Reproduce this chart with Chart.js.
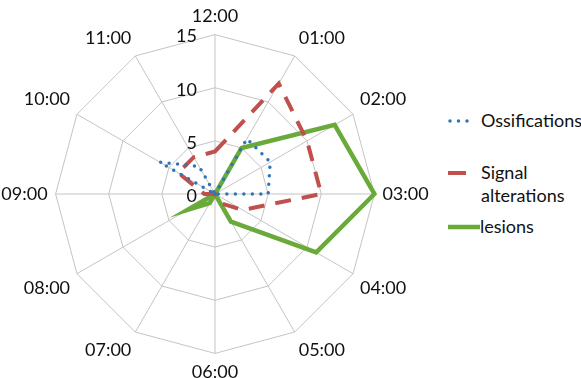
<!DOCTYPE html>
<html>
<head>
<meta charset="utf-8">
<script src="https://cdn.jsdelivr.net/npm/chart.js@4.4.0/dist/chart.umd.min.js"></script>
<style>
  html, body { margin: 0; padding: 0; background: #fff; }
  body { width: 581px; height: 378px; position: relative; overflow: hidden; font-family: Lato, sans-serif; color: #111; }
  #wrap { position: absolute; left: 0; top: 0; width: 430px; height: 384px; }
  .leg { position: absolute; font-size: 18px; line-height: 23px; }
  .leg svg { position: absolute; }
</style>
</head>
<body>
<div id="wrap"><canvas id="radar"></canvas></div>

<div class="leg" style="left:447px; top:109px;">
  <svg width="30" height="8" style="left:0; top:8px;"><line x1="3" y1="4" x2="21" y2="4" stroke="#2E75B6" stroke-width="3.5" stroke-linecap="round" stroke-dasharray="0 8.5"/></svg>
  <span style="position:absolute; left:34px; top:0; white-space:nowrap;">Ossifications</span>
</div>
<div class="leg" style="left:447px; top:161px;">
  <svg width="30" height="8" style="left:0; top:8px;"><line x1="1" y1="4" x2="19" y2="4" stroke="#C0504D" stroke-width="4"/></svg>
  <span style="position:absolute; left:34px; top:0; white-space:nowrap;">Signal<br>alterations</span>
</div>
<div class="leg" style="left:447px; top:215px;">
  <svg width="34" height="8" style="left:0; top:8px;"><line x1="1" y1="4" x2="33" y2="4" stroke="#6AAA3A" stroke-width="4.5"/></svg>
  <span style="position:absolute; left:33px; top:0; white-space:nowrap;">lesions</span>
</div>

<script>
// clock positions round the radar
const hours = ["12:00", "01:00", "02:00", "03:00", "04:00", "05:00",
               "06:00", "07:00", "08:00", "09:00", "10:00", "11:00"];

// values, one per clock position
const ossifications = [0, 6, 6, 5, 0, 0, 0, 0, 0, 0, 6, 3];
const signalAlterations = [4, 12, 10, 10, 3, 1, 0, 0, 0, 1, 4, 4];
const lesions = [0, 5, 13, 15, 11, 3, 0, 1, 3, 0, 0, 0];

// radial axis
const rMin = 0;
const rMax = 15;
const rStep = 5;

// tick numbers sit to the left of the 12:00 spoke, not on it
const tickLabels = {
  id: "tickLabels",
  afterDatasetsDraw(chart) {
    const r = chart.scales.r;
    const ctx = chart.ctx;
    ctx.save();
    ctx.font = "18px Lato";
    ctx.fillStyle = "#111";
    ctx.textAlign = "right";
    ctx.textBaseline = "middle";
    r.ticks.forEach((t) => {
      const d = r.getDistanceFromCenterForValue(t.value);
      ctx.fillText(t.label, r.xCenter - 18, r.yCenter - d + 2);
    });
    ctx.restore();
  },
};

const ctx = document.getElementById("radar").getContext("2d");

new Chart(ctx, {
  type: "radar",
  data: {
    labels: hours,
    datasets: [
      {
        label: "Ossifications",
        data: ossifications,
        borderColor: "#2E75B6",
        borderWidth: 3.5,
        borderDash: [0, 8.5],
        borderCapStyle: "round",
        pointRadius: 0,
        fill: false,
      },
      {
        label: "Signal alterations",
        data: signalAlterations,
        borderColor: "#C0504D",
        borderWidth: 4,
        borderDash: [16, 11],
        pointRadius: 0,
        fill: false,
      },
      {
        label: "lesions",
        data: lesions,
        borderColor: "#6AAA3A",
        borderWidth: 4.5,
        borderJoinStyle: "miter",
        pointRadius: 0,
        fill: false,
      },
    ],
  },
  options: {
    responsive: true,
    maintainAspectRatio: false,
    animation: false,
    layout: { padding: { top: 5, bottom: 0, left: 0, right: 0 } },
    plugins: {
      legend: { display: false },
      tooltip: { enabled: false },
    },
    elements: { line: { tension: 0 } },
    scales: {
      r: {
        min: rMin,
        max: rMax,
        ticks: { stepSize: rStep, display: false },
        grid: { color: "#c4c4c4", lineWidth: 1 },
        angleLines: { color: "#c4c4c4", lineWidth: 1 },
        pointLabels: {
          font: { family: "Lato", size: 18 },
          color: "#111",
          padding: 8,
        },
      },
    },
  },
  plugins: [tickLabels],
});
</script>
</body>
</html>
